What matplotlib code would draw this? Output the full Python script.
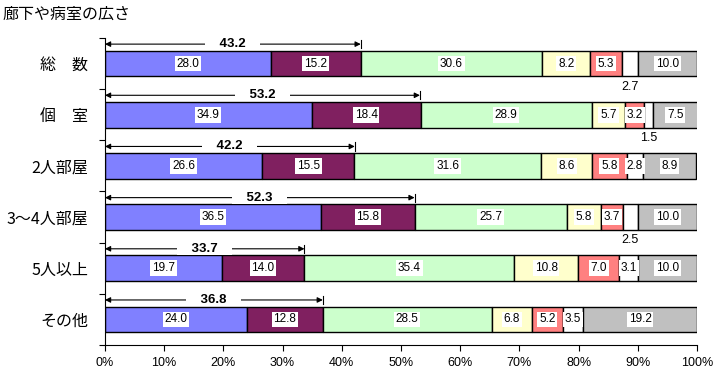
import matplotlib
matplotlib.use('Agg')
import matplotlib.pyplot as plt
import numpy as np

plt.rcParams['font.family'] = ['Liberation Sans', 'Noto Sans CJK JP', 'DejaVu Sans']

title = '廊下や病室の広さ'
categories = ['総　数', '個　室', '2人部屋', '3～4人部屋', '5人以上', 'その他']
s1 = [28.0, 34.9, 26.6, 36.5, 19.7, 24.0]
s2 = [15.2, 18.4, 15.5, 15.8, 14.0, 12.8]
s3 = [30.6, 28.9, 31.6, 25.7, 35.4, 28.5]
s4 = [8.2, 5.7, 8.6, 5.8, 10.8, 6.8]
s5 = [5.3, 3.2, 5.8, 3.7, 7.0, 5.2]
s6 = [2.7, 1.5, 2.8, 2.5, 3.1, 3.5]
s7 = [10.0, 7.5, 8.9, 10.0, 10.0, 19.2]
totals = [43.2, 53.2, 42.2, 52.3, 33.7, 36.8]
xtick_vals = [0, 10, 20, 30, 40, 50, 60, 70, 80, 90, 100]
xtick_labels = ['0%', '10%', '20%', '30%', '40%', '50%', '60%', '70%', '80%', '90%', '100%']

series = [s1, s2, s3, s4, s5, s6, s7]
colors = ['#8080FF', '#802060', '#CCFFCC', '#FFFFCC', '#FF8080', '#FFFFFF', '#C0C0C0']
# labels of the white segment that sit below the bar (category index, series index)
below = {(0, 5), (1, 5), (3, 5)}

fig = plt.figure(figsize=(7.16, 3.72), dpi=100)
ax = fig.add_axes([0.1466, 0.0726, 0.8269, 0.8253])

ypos = np.arange(len(categories))
bh = 0.5
left = np.zeros(len(categories))
for si, (vals, col) in enumerate(zip(series, colors)):
    vals = np.array(vals)
    ax.barh(ypos, vals, left=left, height=bh, color=col, edgecolor='black', linewidth=1.0, zorder=2)
    for ci, v in enumerate(vals):
        cx = left[ci] + v / 2
        if (ci, si) in below:
            ax.text(cx, ypos[ci] + bh / 2 + 0.2, f'{v:.1f}', ha='center', va='center', fontsize=9, zorder=4)
        else:
            ax.text(cx, ypos[ci], f'{v:.1f}', ha='center', va='center', fontsize=8.5, zorder=4,
                    bbox=dict(boxstyle='square,pad=0.15', facecolor='white', edgecolor='none'))
    left = left + vals

for ci, tot in enumerate(totals):
    y = ypos[ci] - bh / 2 - 0.13
    ax.annotate('', xy=(0, y), xytext=(tot, y),
                arrowprops=dict(arrowstyle='<|-|>', color='black', lw=0.8, mutation_scale=8,
                                shrinkA=0, shrinkB=0), zorder=3)
    ax.plot([tot, tot], [y - 0.08, y + 0.08], color='black', lw=0.8, zorder=3)
    ax.text(tot / 2, y, f'    {tot:.1f}    ', ha='center', va='center', fontsize=9.5,
            fontweight='bold', zorder=4,
            bbox=dict(boxstyle='square,pad=0.0', facecolor='white', edgecolor='none'))

ax.set_xlim(0, 100)
ax.set_ylim(len(categories) - 0.5, -0.5)
ax.set_xticks(xtick_vals)
ax.set_xticklabels(xtick_labels, fontsize=9)
ax.set_yticks(np.arange(len(categories) + 1) - 0.5)
ax.set_yticklabels([])
ax.set_yticks(ypos, minor=True)
ax.set_yticklabels(categories, minor=True, fontsize=11.5, family=['Noto Sans CJK JP'])
ax.tick_params(axis='y', which='minor', length=0, pad=12)
ax.tick_params(axis='y', which='major', direction='out', length=4, width=0.8)
ax.tick_params(axis='x', direction='out', length=4, width=0.8, pad=5)
for sp in ['top', 'right']:
    ax.spines[sp].set_visible(False)
ax.spines['left'].set_linewidth(0.8)
ax.spines['bottom'].set_linewidth(0.8)

fig.text(0.003, 0.962, title, fontsize=11.5, ha='left', va='center', family=['Noto Sans CJK JP'])

fig.savefig('out.png', dpi=100)
